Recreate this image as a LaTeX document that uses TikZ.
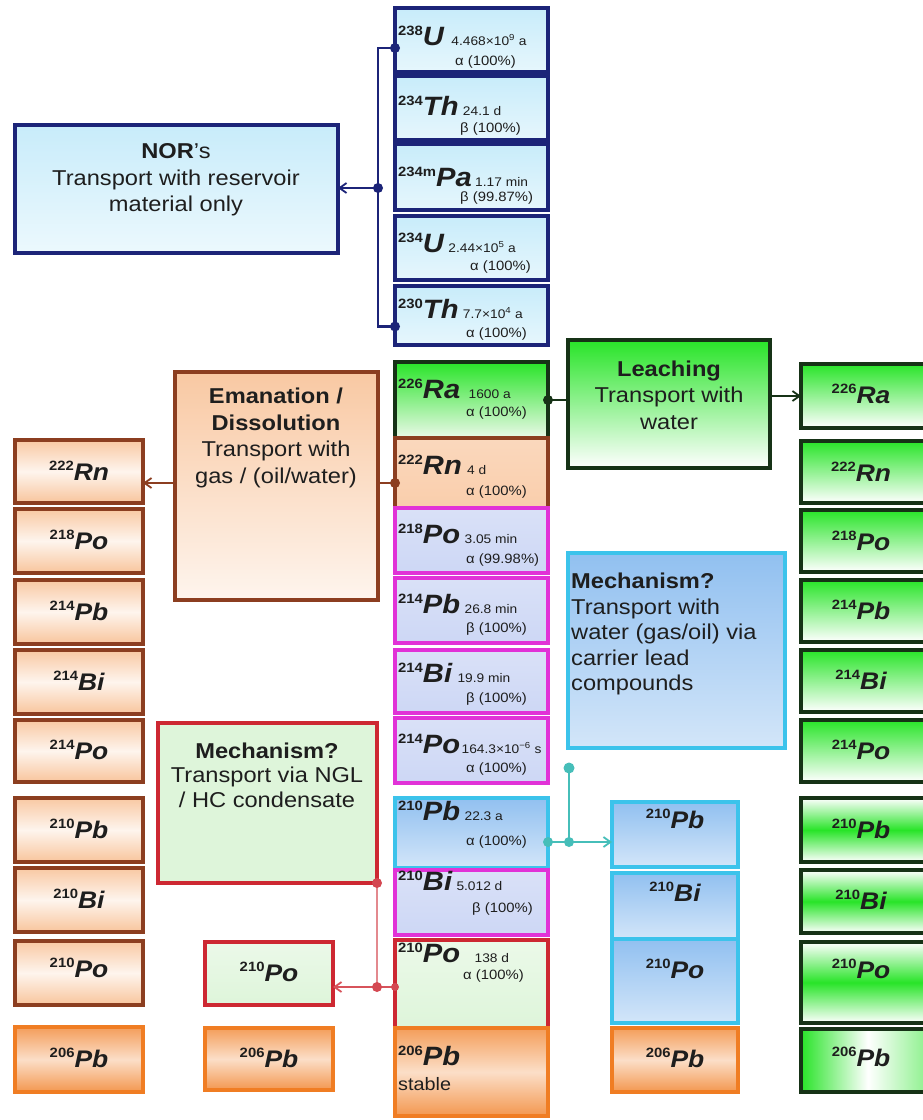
\documentclass[tikz,border=0pt]{standalone}
\usepackage{fontspec}
\setmainfont{Liberation Sans}[FakeStretch=1.1]
\usetikzlibrary{arrows.meta}
\definecolor{navy}{RGB}{28,36,120}
\definecolor{ufill}{RGB}{200,236,250}
\definecolor{brownb}{RGB}{140,62,32}
\definecolor{orng}{RGB}{240,125,35}
\definecolor{magb}{RGB}{225,50,215}
\definecolor{lav}{RGB}{205,215,245}
\definecolor{cyanb}{RGB}{60,195,235}
\definecolor{bluef}{RGB}{145,192,240}
\definecolor{redb}{RGB}{205,40,50}
\definecolor{lgreen}{RGB}{222,245,218}
\definecolor{dgreen}{RGB}{22,50,22}
\definecolor{gfill}{RGB}{40,228,40}
\definecolor{tealc}{RGB}{70,190,185}
\definecolor{txt}{RGB}{30,30,30}
\newcommand\fhl{\fontsize{12.5}{14}\selectfont}
\newcommand\fdc{\fontsize{13.5}{15}\selectfont}
\newcommand\fbig{\fontsize{21.5}{26.5}\selectfont}
\newcommand\isoM[2]{\raisebox{10pt}{\fontsize{13.5}{13}\selectfont\bfseries #1}{\fontsize{26.5}{26}\selectfont\bfseries\itshape #2}}
\newcommand\isoS[2]{\raisebox{9.5pt}{\fontsize{13.5}{13}\selectfont\bfseries #1}{\fontsize{24}{24}\selectfont\bfseries\itshape #2}}
\newcommand\bxat[6]{\node[#2, minimum width={#5pt-#3pt}, minimum height={#6pt-#4pt}] (#1) at ({(#3+#5)/2},{(#4+#6)/2}) {};}
\newcommand\lab[4]{\node[anchor=base, inner sep=0pt, text=txt] (#1) at (#2,#3) {#4};}
\newcommand\midtxt[9]{%
 \node[anchor=base west, inner sep=0pt, text=txt] (#1-i) at (398,#2) {\isoM{#3}{#4}};
 \node[anchor=base west, inner sep=0pt, font=\fhl, text=txt] (#1-h) at ([xshift=#5pt]#1-i.base east) {#6};
 \node[anchor=base west, inner sep=0pt, font=\fdc, text=txt] (#1-d) at (#7,#8) {#9};}
\tikzset{
 bx/.style={draw, line width=3.2pt, inner sep=0pt, outer sep=0pt},
 ubox/.style={bx, draw=navy, top color=ufill, bottom color=ufill!45!white},
 lbox/.style={bx, draw=brownb, top color=orng!42!white, bottom color=orng!45!white, middle color=orng!8!white},
 obox/.style={bx, draw=orng, top color=orng!75!white, bottom color=orng!80!white, middle color=orng!25!white},
 pbox/.style={bx, draw=brownb, top color=orng!30!white, bottom color=orng!38!white},
 mbox/.style={bx, draw=magb, top color=lav!75!white, bottom color=lav},
 cbox/.style={bx, draw=cyanb, top color=bluef, bottom color=bluef!40!white},
 rbox/.style={bx, draw=redb, top color=lgreen!60!white, bottom color=lgreen},
 gbox/.style={bx, draw=dgreen, top color=gfill, bottom color=white},
 gbbox/.style={bx, draw=dgreen, top color=white, bottom color=white, middle color=gfill},
 glbox/.style={bx, draw=dgreen, left color=gfill, right color=gfill!60!white, middle color=white},
 conn/.style={line width=2.3pt},
 tip/.style={-{Straight Barb[length=7pt,width=10pt,line width=1.8pt]}},
 big/.style={font=\fbig, align=center, text=txt, inner sep=0pt},
}
\begin{document}
\begin{tikzpicture}[x=1pt,y=-1pt]
\fill[white] (0,0) rectangle (923,1120);
\useasboundingbox (0,0) rectangle (923,1120);
\clip (0,0) rectangle (923,1120);

% ---- big mechanism boxes
\bxat{nor}{bx, draw=navy, top color=ufill, bottom color=ufill!35!white}{15}{125}{338}{253}
\node[big] (nor-t) at (176,180) {\textbf{NOR}’s\\Transport with reservoir\\material only};
\bxat{eman}{bx, draw=brownb, top color=orng!42!white, bottom color=orng!8!white}{175}{372}{378}{600}
\node[big] (eman-t) at (276,438) {\textbf{Emanation /}\\\textbf{Dissolution}\\Transport with\\gas / (oil/water)};
\bxat{leach}{bx, draw=dgreen, top color=gfill, bottom color=white}{568}{340}{770}{468}
\node[big] (leach-t) at (669,395) {\textbf{Leaching}\\Transport with\\water};
\bxat{mechb}{bx, draw=cyanb, top color=bluef, bottom color=bluef!40!white}{568}{553}{785}{748}
\node[big, align=left, anchor=west, font=\fontsize{21.5}{25.5}\selectfont] (mechb-t) at (571,634) {\textbf{Mechanism?}\\Transport with\\water (gas/oil) via\\carrier lead\\compounds};
\bxat{mechr}{bx, draw=redb, fill=lgreen}{158}{723}{377}{883}
\node[big, font=\fontsize{21.5}{24.5}\selectfont] (mechr-t) at (267,775) {\textbf{Mechanism?}\\Transport via NGL\\/ HC condensate};

% ---- middle decay chain
\bxat{u238}{ubox}{395}{8}{548}{72}
\midtxt{u238}{45}{238}{U}{7}{4.468×10\textsuperscript{9} a}{455}{65}{α (100\%)}
\bxat{th234}{ubox}{395}{76}{548}{140}
\midtxt{th234}{115}{234}{Th}{4}{24.1 d}{460}{132}{β (100\%)}
\bxat{pa234}{ubox}{395}{144}{548}{210}
\midtxt{pa234}{186}{234m}{Pa}{3}{1.17 min}{460}{201}{β (99.87\%)}
\bxat{u234}{ubox}{395}{216}{548}{280}
\midtxt{u234}{252}{234}{U}{4}{2.44×10\textsuperscript{5} a}{470}{270}{α (100\%)}
\bxat{th230}{ubox}{395}{286}{548}{345}
\midtxt{th230}{318}{230}{Th}{4}{7.7×10\textsuperscript{4} a}{466}{337}{α (100\%)}
\bxat{ra226m}{bx, draw=dgreen, top color=gfill, bottom color=lgreen!60!white}{395}{362}{548}{438}
\midtxt{ra226m}{398}{226}{Ra}{8}{1600 a}{466}{416}{α (100\%)}
\bxat{rn222m}{pbox}{395}{438}{548}{508}
\midtxt{rn222m}{474}{222}{Rn}{5}{4 d}{466}{495}{α (100\%)}
\bxat{po218m}{mbox}{395}{508}{548}{573}
\midtxt{po218m}{543}{218}{Po}{4}{3.05 min}{466}{563}{α (99.98\%)}
\bxat{pb214m}{mbox}{395}{578}{548}{643}
\midtxt{pb214m}{613}{214}{Pb}{4}{26.8 min}{466}{632}{β (100\%)}
\bxat{bi214m}{mbox}{395}{650}{548}{713}
\midtxt{bi214m}{682}{214}{Bi}{5}{19.9 min}{466}{702}{β (100\%)}
\bxat{po214m}{mbox}{395}{718}{548}{783}
\midtxt{po214m}{753}{214}{Po}{1}{164.3×10\textsuperscript{−6} s}{466}{772}{α (100\%)}
\bxat{pb210m}{cbox}{395}{798}{548}{868}
\midtxt{pb210m}{820}{210}{Pb}{4}{22.3 a}{466}{845}{α (100\%)}
\bxat{bi210m}{mbox}{395}{870}{548}{935}
\midtxt{bi210m}{890}{210}{Bi}{4}{5.012 d}{472}{912}{β (100\%)}
\bxat{po210m}{rbox}{395}{940}{548}{1028}
\midtxt{po210m}{962}{210}{Po}{14}{138 d}{463}{979}{α (100\%)}
\bxat{pb206m}{obox}{395}{1028}{548}{1116}
\node[anchor=base west, inner sep=0pt, text=txt] (pb206m-i) at (398,1065) {\isoM{206}{Pb}};
\node[anchor=base west, inner sep=0pt, text=txt, font=\fontsize{18}{20}\selectfont] (pb206m-s) at (398,1090) {stable};

% ---- left column
\bxat{rnL}{lbox}{15}{440}{143}{503}   \lab{rnL-t}{79}{480}{\isoS{222}{Rn}}
\bxat{poL218}{lbox}{15}{509}{143}{573} \lab{poL218-t}{79}{549}{\isoS{218}{Po}}
\bxat{pbL214}{lbox}{15}{580}{143}{644} \lab{pbL214-t}{79}{620}{\isoS{214}{Pb}}
\bxat{biL214}{lbox}{15}{650}{143}{714} \lab{biL214-t}{79}{690}{\isoS{214}{Bi}}
\bxat{poL214}{lbox}{15}{720}{143}{782} \lab{poL214-t}{79}{759}{\isoS{214}{Po}}
\bxat{pbL210}{lbox}{15}{798}{143}{862} \lab{pbL210-t}{79}{838}{\isoS{210}{Pb}}
\bxat{biL210}{lbox}{15}{868}{143}{932} \lab{biL210-t}{79}{908}{\isoS{210}{Bi}}
\bxat{poL210}{lbox}{15}{941}{143}{1005} \lab{poL210-t}{79}{977}{\isoS{210}{Po}}
\bxat{pbL206}{obox}{15}{1027}{143}{1092} \lab{pbL206-t}{79}{1067}{\isoS{206}{Pb}}

% ---- red column
\bxat{po210r}{rbox}{205}{942}{333}{1005} \lab{po210r-t}{269}{981}{\isoS{210}{Po}}
\bxat{pb206r}{obox}{205}{1028}{333}{1090} \lab{pb206r-t}{269}{1067}{\isoS{206}{Pb}}

% ---- blue column
\bxat{pb210b}{cbox}{612}{802}{738}{867} \lab{pb210b-t}{675}{828}{\isoS{210}{Pb}}
\bxat{bi210b}{cbox}{612}{873}{738}{939} \lab{bi210b-t}{675}{901}{\isoS{210}{Bi}}
\bxat{po210b}{cbox}{612}{939}{738}{1023} \lab{po210b-t}{675}{978}{\isoS{210}{Po}}
\bxat{pb206b}{obox}{612}{1028}{738}{1092} \lab{pb206b-t}{675}{1067}{\isoS{206}{Pb}}

% ---- right green column
\bxat{raR}{gbox}{801}{364}{935}{428} \lab{raR-t}{861}{403}{\isoS{226}{Ra}}
\bxat{rnR}{gbox}{801}{441}{935}{503} \lab{rnR-t}{861}{481}{\isoS{222}{Rn}}
\bxat{poR218}{gbox}{801}{510}{935}{572} \lab{poR218-t}{861}{550}{\isoS{218}{Po}}
\bxat{pbR214}{gbox}{801}{580}{935}{642} \lab{pbR214-t}{861}{619}{\isoS{214}{Pb}}
\bxat{biR214}{gbox}{801}{650}{935}{712} \lab{biR214-t}{861}{689}{\isoS{214}{Bi}}
\bxat{poR214}{gbox}{801}{720}{935}{782} \lab{poR214-t}{861}{759}{\isoS{214}{Po}}
\bxat{pbR210}{gbbox}{801}{798}{935}{862} \lab{pbR210-t}{861}{838}{\isoS{210}{Pb}}
\bxat{biR210}{gbbox}{801}{870}{935}{933} \lab{biR210-t}{861}{909}{\isoS{210}{Bi}}
\bxat{poR210}{gbbox}{801}{942}{935}{1023} \lab{poR210-t}{861}{978}{\isoS{210}{Po}}
\bxat{pbR206}{glbox}{801}{1029}{935}{1092} \lab{pbR206-t}{861}{1066}{\isoS{206}{Pb}}

% ---- connectors: NOR
\coordinate (nj) at (378,188);
\coordinate (na) at ([yshift=-8pt]u238.west);
\coordinate (nb) at ([yshift=-11pt]th230.west);
\draw[conn, navy] (na) -| (nj) |- (nb);
\draw[conn, navy, tip] (nj) -- (nor.east |- nj);
\fill[navy] (na) circle (5pt) (nb) circle (5pt) (nj) circle (5pt);

% ---- emanation
\coordinate (ej) at ([yshift=-10pt]rn222m.west);
\draw[conn, brownb] (ej) -- (eman.east |- ej);
\draw[conn, brownb, tip] (eman.west |- ej) -- (rnL.east |- ej);
\fill[brownb] (ej) circle (5pt);

% ---- leaching
\draw[conn, dgreen] (ra226m.east) -- (leach.west |- ra226m.east);
\draw[conn, dgreen, tip] (leach.east |- raR.west) -- (raR.west);
\fill[dgreen] (ra226m.east) circle (5pt);

% ---- carrier lead
\coordinate (cs) at ([yshift=-9pt]pb210m.east);
\coordinate (cj) at (569,842);
\coordinate (ct) at (569,768);
\draw[conn, tealc] (cs) -- (cj);
\draw[conn, tealc, tip] (cj) -- (pb210b.west |- cj);
\draw[conn, tealc] (ct) -- (cj);
\fill[tealc] (cs) circle (5pt) (cj) circle (5pt) (ct) circle (5.5pt);

% ---- NGL
\coordinate (rt) at (mechr.south east);
\coordinate (rs) at ([yshift=-3pt]po210m.west);
\coordinate (rj) at (rt |- rs);
\draw[conn, redb!55!white] (rt) -- (rj);
\draw[conn, redb!80!white] (rs) -- (rj);
\draw[conn, redb!80!white, tip] (rj) -- (po210r.east |- rj);
\fill[redb!85!white] (rt) circle (5pt) (rj) circle (5pt) (rs) circle (4pt);
\end{tikzpicture}
\end{document}
